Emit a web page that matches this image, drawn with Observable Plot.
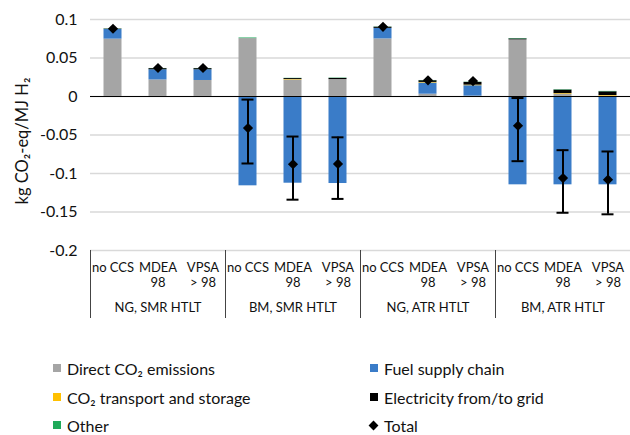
<!DOCTYPE html>
<html>
<head>
<meta charset="utf-8">
<script src="https://cdn.jsdelivr.net/npm/d3@7"></script>
<script src="https://cdn.jsdelivr.net/npm/@observablehq/plot@0.6"></script>
<style>
  html, body { margin: 0; padding: 0; background: #fff; }
  #chart { width: 630px; height: 435px; position: relative; font-family: Lato, "Open Sans", sans-serif; }
  .legend { position: absolute; left: 0; top: 330px; width: 630px; height: 105px; font-size: 16px; color: #111; }
  .item { position: absolute; display: flex; align-items: center; height: 20px; }
  .sw { width: 8px; height: 8px; margin-right: 6px; display: inline-block; }
  .dia { width: 7px; height: 7px; background: #000; transform: rotate(45deg); margin: 0 7px 0 2px; }
</style>
</head>
<body>
<div id="chart"></div>
<script>
// ---- data ----
const groups = ["NG, SMR HTLT", "BM, SMR HTLT", "NG, ATR HTLT", "BM, ATR HTLT"];
const variants = ["no CCS", "MDEA\n98", "VPSA\n> 98"];
const series = ["Direct CO₂ emissions", "Fuel supply chain", "CO₂ transport and storage", "Electricity from/to grid", "Other"];
const seriesColors = ["#a5a5a5", "#3a7cc8", "#ffc000", "#000000", "#1faa5a"];

const directCO2   = [0.0745, 0.0215, 0.0208,  0.0752, 0.0215, 0.0220,  0.0748, 0.0030, 0.0005,  0.0735, 0.0030, 0.0005];
const fuelSupply  = [0.0125, 0.0132, 0.0139, -0.1160, -0.1126, -0.1130,  0.0137, 0.0145, 0.0135, -0.1147, -0.1147, -0.1147];
const transport   = [0,      0,      0,       0,      0.0006, 0,       0,      0.0008, 0.0008,  0,      0.0008, 0.0008];
const electricity = [0.0005, 0.0015, 0.0015,  0,      0.0012, 0.0015,  0.0015, 0.0022, 0.0035,  0.0013, 0.0045, 0.0048];
const other       = [0.0003, 0.0002, 0.0002,  0.0008, 0.0003, 0.0004,  0.0003, 0.0003, 0.0003,  0.0005, 0.0005, 0.0005];
const total       = [0.088,  0.037,  0.037,  -0.041, -0.088, -0.0875,  0.0905, 0.021,  0.020,  -0.038, -0.106, -0.108];
const errLow      = [null, null, null, -0.087, -0.134, -0.133, null, null, null, -0.084, -0.151, -0.153];
const errHigh     = [null, null, null, -0.004, -0.052, -0.053, null, null, null, -0.002, -0.0697, -0.0714];
const yTicks = [0.1, 0.05, 0, -0.05, -0.1, -0.15, -0.2];
const yLabel = "kg CO₂-eq/MJ H₂";

// ---- tables built from the arrays ----
const cats = [];
groups.forEach((g, gi) => variants.forEach((v, vi) => cats.push({key: g + "|" + v, group: g, variant: v, idx: gi * 3 + vi})));
const keys = cats.map(d => d.key);
const seriesValues = [directCO2, fuelSupply, transport, electricity, other];
const stackRows = [];
cats.forEach(c => series.forEach((s, si) => {
  const v = seriesValues[si][c.idx];
  if (v) stackRows.push({key: c.key, series: s, value: v});
}));
const totals = cats.map(c => ({key: c.key, total: total[c.idx], lo: errLow[c.idx], hi: errHigh[c.idx]}));
const errs = totals.filter(d => d.lo != null);
const firsts = cats.filter(c => c.variant === variants[0]);
const lasts = cats.filter(c => c.key === keys[keys.length - 1]);
const mids = cats.filter(c => c.variant === variants[1]);

const W = 630, H = 330, mL = 90, mT = 19, mB = 80, mR = 0;
const plotH = H - mT - mB;

const chart = Plot.plot({
  width: W, height: H,
  marginLeft: mL, marginRight: mR, marginTop: mT, marginBottom: mB,
  style: {fontFamily: "Lato, 'Open Sans', sans-serif", color: "#111", background: "#fff"},
  x: {domain: keys, padding: 0, axis: null},
  y: {domain: [-0.2, 0.1], ticks: yTicks},
  color: {domain: series, range: seriesColors},
  marks: [
    Plot.gridY(yTicks, {stroke: "#d9d9d9", strokeOpacity: 1, strokeWidth: 1.3}),
    Plot.axisY(yTicks, {tickSize: 0, tickPadding: 13, fontSize: 16, tickFormat: d => String(d), label: null}),
    Plot.text([yLabel], {frameAnchor: "left", textAnchor: "middle", rotate: -90, dx: -68, dy: 6, fontSize: 16.5, fill: "#111", text: d => d}),
    Plot.barY(stackRows, Plot.stackY({x: "key", y: "value", fill: "series", z: "series", insetLeft: 13.5, insetRight: 13.5})),
    Plot.ruleY([0], {stroke: "#000", strokeWidth: 1.2}),
    Plot.ruleX(errs, {x: "key", y1: "lo", y2: "hi", stroke: "#000", strokeWidth: 2}),
    Plot.tickY(errs, {x: "key", y: "lo", stroke: "#000", strokeWidth: 2, insetLeft: 16.5, insetRight: 16.5}),
    Plot.tickY(errs, {x: "key", y: "hi", stroke: "#000", strokeWidth: 2, insetLeft: 16.5, insetRight: 16.5}),
    Plot.dot(totals, {x: "key", y: "total", symbol: "diamond2", r: 4.6, fill: "#000", stroke: "none"}),
    // category axis (multi-level)
    Plot.ruleX(firsts, {x: "key", dx: -22.5, stroke: "#444", strokeWidth: 1, insetTop: plotH, insetBottom: -68}),
    Plot.ruleX(lasts, {x: "key", dx: 22.5, stroke: "#444", strokeWidth: 1, insetTop: plotH, insetBottom: -68}),
    Plot.text(cats, {x: "key", y: () => -0.2, text: "variant", dy: 11, lineAnchor: "top", fontSize: 13, lineHeight: 1.15, fill: "#111"}),
    Plot.text(mids, {x: "key", y: () => -0.2, text: "group", dy: 57, lineAnchor: "middle", fontSize: 13, fill: "#111"})
  ]
});
document.getElementById("chart").appendChild(chart);

// ---- legend ----
const legend = document.createElement("div");
legend.className = "legend";
const legendPos = [[53, 28], [370, 28], [53, 57], [370, 57], [53, 85]];
series.forEach((s, i) => {
  const it = document.createElement("div");
  it.className = "item";
  it.style.left = legendPos[i][0] + "px";
  it.style.top = legendPos[i][1] + "px";
  const sw = document.createElement("span");
  sw.className = "sw";
  sw.style.background = seriesColors[i];
  it.appendChild(sw);
  it.appendChild(document.createTextNode(s));
  legend.appendChild(it);
});
const tot = document.createElement("div");
tot.className = "item";
tot.style.left = "368px"; tot.style.top = "85px";
const dia = document.createElement("span");
dia.className = "dia";
tot.appendChild(dia);
tot.appendChild(document.createTextNode("Total"));
legend.appendChild(tot);
document.getElementById("chart").appendChild(legend);
</script>
</body>
</html>
